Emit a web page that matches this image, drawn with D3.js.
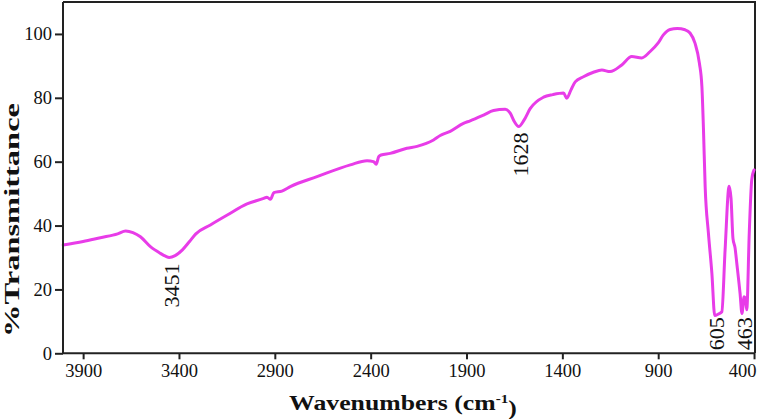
<!DOCTYPE html>
<html>
<head>
<meta charset="utf-8">
<script src="https://cdn.jsdelivr.net/npm/d3@7/dist/d3.min.js"></script>
<style>
  html, body { margin: 0; padding: 0; background: #fff; }
  svg { display: block; }
</style>
</head>
<body>
<svg id="chart" width="758" height="419"></svg>
<script>
// ---- data ----
const wavenumbers = [4004, 3900, 3810, 3720, 3678, 3640, 3601, 3549, 3497, 3470, 3451, 3420, 3382, 3345, 3312, 3236, 3148, 3045, 2958, 2941, 2923, 2905, 2863, 2819, 2680, 2506, 2419, 2385, 2371, 2358, 2346, 2298, 2211, 2158, 2072, 2037, 1985, 1916, 1881, 1811, 1759, 1698, 1672, 1650, 1628, 1600, 1568, 1498, 1450, 1394, 1377, 1355, 1333, 1290, 1238, 1194, 1151, 1090, 1038, 986, 942, 900, 873, 838, 800, 760, 734, 708, 685, 672, 664, 655, 638, 620, 605, 586, 568, 551, 530, 520, 510, 499, 490, 473, 463, 452, 445, 438, 425, 412, 400];
const transmittance = [33.9, 35.0, 36.2, 37.4, 38.3, 37.8, 36.5, 33.4, 31.3, 30.4, 30.0, 30.6, 32.4, 35.0, 37.4, 40.2, 43.3, 46.8, 48.5, 48.9, 48.2, 50.3, 50.8, 52.2, 55.3, 59.0, 60.3, 60.0, 59.2, 61.6, 62.1, 62.6, 64.2, 64.8, 66.8, 68.2, 69.5, 72.0, 72.8, 74.6, 76.0, 76.4, 75.2, 72.5, 71.0, 73.0, 76.6, 80.2, 81.0, 81.5, 79.9, 82.5, 85.0, 86.6, 88.0, 88.7, 88.2, 90.3, 92.9, 92.5, 94.5, 97.2, 99.7, 101.4, 101.7, 101.3, 100.3, 97.1, 90.8, 83.5, 70.5, 52.2, 37.6, 25.1, 11.8, 12.3, 13.0, 32.4, 52.3, 48.5, 36.0, 33.0, 28.2, 18.8, 12.5, 17.7, 17.0, 13.6, 37.6, 54.3, 57.4];
const xTickValues = [3900, 3400, 2900, 2400, 1900, 1400, 900, 400];
const yTickValues = [0, 20, 40, 60, 80, 100];
const peakWavenumbers = [3451, 1628, 605, 463];
const peakValues = [30.0, 71.0, 11.8, 12.5];
const peakLabels = ["3451", "1628", "605", "463"];
const xTitle = "Wavenumbers (cm";
const xTitleSup = "-1";
const yTitle = "%Transmittance";

// ---- layout ----
const svg = d3.select("#chart");
const mLeft = 63, mRight = 755, mTop = 2, mBottom = 353.3;
const x = d3.scaleLinear().domain([4005, 395]).range([mLeft, mRight]);
const y = d3.scaleLinear().domain([0, 110]).range([mBottom, mTop]);
const serif = "'Liberation Serif', 'Times New Roman', serif";

// frame (top + right)
svg.append("path")
  .attr("d", `M${mLeft},${mTop}H${mRight}V${mBottom}`)
  .attr("fill", "none").attr("stroke", "#222").attr("stroke-width", 2);

// curve
const pts = wavenumbers.map((w, i) => [w, transmittance[i]]);
const line = d3.line().x(d => x(d[0])).y(d => y(d[1])).curve(d3.curveMonotoneX);
svg.append("path")
  .datum(pts)
  .attr("d", line)
  .attr("fill", "none")
  .attr("stroke", "#e83ce8")
  .attr("stroke-width", 3)
  .attr("stroke-linejoin", "round")
  .attr("stroke-linecap", "round");

// axes
const xAxis = d3.axisBottom(x).tickValues(xTickValues).tickFormat(d3.format("d"))
  .tickSize(6).tickPadding(5).tickSizeOuter(0);
const yAxis = d3.axisLeft(y).tickValues(yTickValues).tickFormat(d3.format("d"))
  .tickSize(8).tickPadding(3).tickSizeOuter(0);

const gx = svg.append("g").attr("transform", `translate(0,${mBottom})`).call(xAxis);
const gy = svg.append("g").attr("transform", `translate(${mLeft},0)`).call(yAxis);
[gx, gy].forEach(g => {
  g.select(".domain").attr("stroke", "#222").attr("stroke-width", 2);
  g.selectAll(".tick line").attr("stroke", "#222").attr("stroke-width", 2);
  g.selectAll(".tick text").attr("fill", "#111").style("font-family", serif).style("font-size", "18.5px");
});
gx.select(".domain").attr("d", `M${mLeft},0H${mRight}`);
gy.select(".domain").attr("d", `M0,${mBottom}V${mTop}`);
// last x tick label sits flush against the right edge
gx.selectAll(".tick text").filter(d => d === xTickValues[xTickValues.length - 1])
  .attr("text-anchor", "end").attr("x", 2);

// peak labels
const labelSize = 22;
peakWavenumbers.forEach((w, i) => {
  const len = peakLabels[i].length * labelSize * 0.5;
  const topY = Math.min(y(peakValues[i]) + 6, y(0) - len - 3);
  svg.append("text")
    .attr("transform", `translate(${x(w) + 2},${topY}) rotate(-90)`)
    .attr("text-anchor", "end")
    .attr("dy", "0.35em")
    .style("font-family", serif)
    .style("font-size", labelSize + "px")
    .attr("fill", "#111")
    .text(peakLabels[i]);
});

// x title
const xt = svg.append("text")
  .attr("transform", `translate(403,410) scale(1.17,1)`)
  .attr("text-anchor", "middle")
  .style("font-family", serif)
  .style("font-size", "22px")
  .style("font-weight", "bold")
  .attr("fill", "#111");
xt.append("tspan").text(xTitle);
xt.append("tspan").attr("dy", "-0.55em").style("font-size", "13px").text(xTitleSup);
xt.append("tspan").attr("dy", "0.55em").text(")");

// y title
svg.append("text")
  .attr("transform", `translate(19,220) rotate(-90)`)
  .attr("text-anchor", "middle")
  .style("font-family", serif)
  .style("font-size", "22px")
  .style("font-weight", "bold")
  .attr("fill", "#111")
  .attr("textLength", 234)
  .attr("lengthAdjust", "spacingAndGlyphs")
  .text(yTitle);
</script>
</body>
</html>
